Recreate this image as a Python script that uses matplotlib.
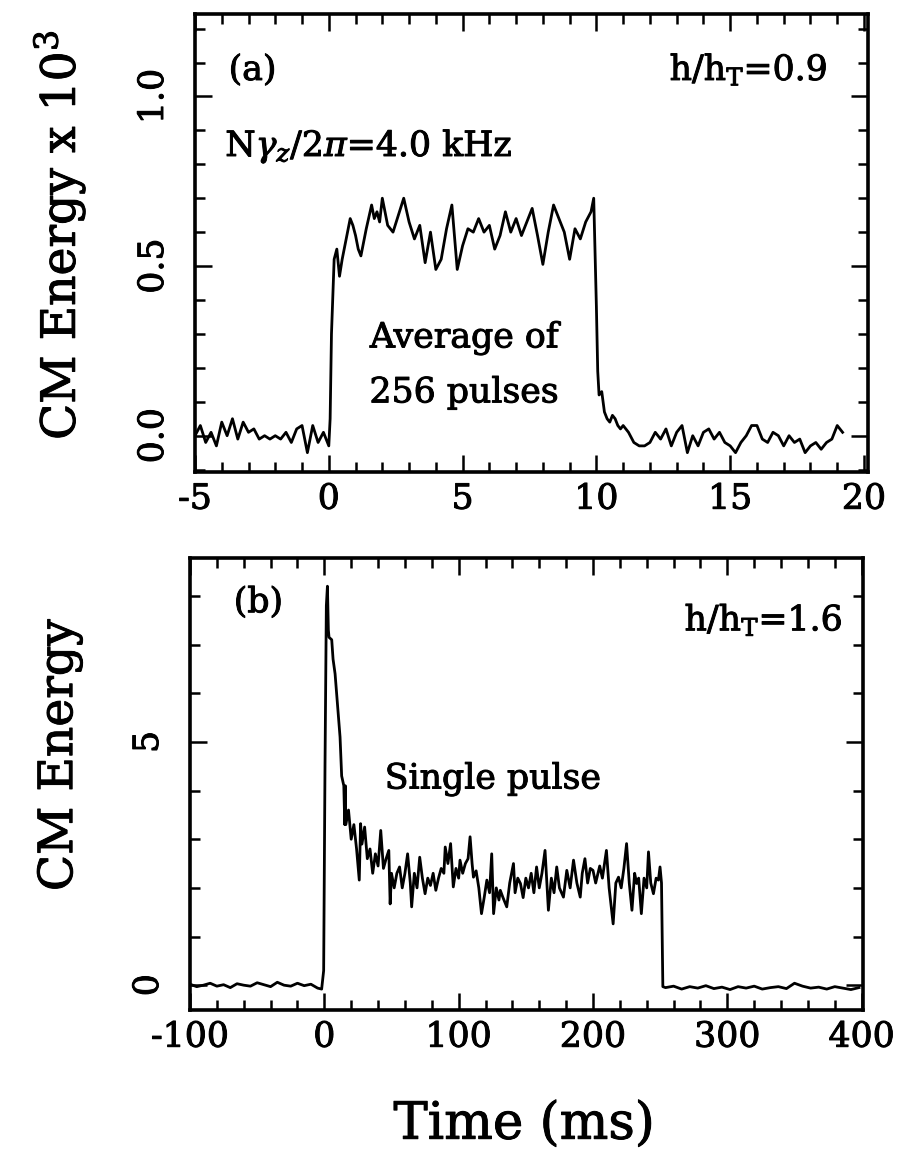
import numpy as np
import matplotlib
matplotlib.use('Agg')
import matplotlib.pyplot as plt
import matplotlib.patheffects as pe
from matplotlib.ticker import MultipleLocator

plt.rcParams['font.family'] = 'DejaVu Serif'
plt.rcParams['mathtext.fontset'] = 'dejavuserif'
plt.rcParams['axes.unicode_minus'] = False

# (a) average of 256 pulses, time in ms, CM energy in units of 10^3
a_time = [-5.0, -4.8, -4.6, -4.4, -4.2, -4.0, -3.8, -3.6, -3.4, -3.2,
          -3.0, -2.8, -2.6, -2.4, -2.2, -2.0, -1.8, -1.6, -1.4, -1.2,
          -1.0, -0.8, -0.6, -0.4, -0.2, 0.0,
          0.05, 0.1, 0.2, 0.3, 0.4, 0.5, 0.6, 0.7, 0.8, 0.9,
          1.0, 1.1, 1.2, 1.4, 1.6, 1.7, 1.8, 1.9, 2.0, 2.2,
          2.4, 2.6, 2.8, 3.0, 3.2, 3.4, 3.6, 3.8, 4.0, 4.2,
          4.4, 4.6, 4.8, 5.0, 5.2, 5.4, 5.6, 5.8, 6.0, 6.2,
          6.4, 6.6, 6.8, 7.0, 7.2, 7.4, 7.6, 7.8, 8.0, 8.2,
          8.4, 8.6, 8.8, 9.0, 9.2, 9.4, 9.6, 9.8, 9.9, 10.0,
          10.05, 10.1, 10.2, 10.3, 10.4, 10.5, 10.6, 10.7, 10.8, 10.9,
          11.0, 11.2, 11.4, 11.6, 11.8, 12.0, 12.2, 12.4, 12.6, 12.8,
          13.0, 13.2, 13.4, 13.6, 13.8, 14.0, 14.2, 14.4, 14.6, 14.8,
          15.0, 15.2, 15.4, 15.6, 15.8, 16.0, 16.2, 16.4, 16.6, 16.8,
          17.0, 17.2, 17.4, 17.6, 17.8, 18.0, 18.2, 18.4, 18.6, 18.8,
          19.0, 19.2]
a_energy = [0.00, 0.03, -0.02, 0.01, -0.03, 0.04, 0.00, 0.05, -0.01, 0.04,
            0.01, 0.02, -0.01, 0.00, -0.01, 0.00, -0.01, 0.01, -0.02, 0.02,
            0.03, -0.05, 0.03, -0.02, 0.01, -0.03,
            0.05, 0.30, 0.52, 0.55, 0.47, 0.52, 0.56, 0.60, 0.64, 0.62,
            0.59, 0.55, 0.53, 0.61, 0.68, 0.64, 0.66, 0.63, 0.70, 0.62,
            0.60, 0.65, 0.70, 0.63, 0.58, 0.62, 0.51, 0.60, 0.49, 0.52,
            0.61, 0.68, 0.49, 0.56, 0.61, 0.60, 0.64, 0.60, 0.62, 0.55,
            0.59, 0.66, 0.60, 0.64, 0.59, 0.63, 0.67, 0.59, 0.505, 0.60,
            0.68, 0.64, 0.60, 0.52, 0.61, 0.58, 0.63, 0.66, 0.70, 0.38,
            0.19, 0.12, 0.13, 0.07, 0.05, 0.04, 0.06, 0.05, 0.03, 0.02,
            0.03, 0.01, -0.02, -0.03, -0.03, -0.02, 0.01, -0.01, 0.02, -0.03,
            0.01, 0.03, -0.05, 0.00, -0.03, 0.01, 0.02, -0.01, 0.01, -0.02,
            -0.03, -0.05, -0.02, 0.00, 0.03, 0.03, -0.01, -0.02, 0.01, 0.00,
            -0.03, 0.00, -0.02, -0.01, -0.05, -0.03, -0.02, -0.04, -0.02, -0.01,
            0.03, 0.01]

# (b) single pulse, time in ms, CM energy
b_time = [-100, -95, -90, -85, -80, -75, -70, -65, -60, -55,
          -50, -45, -40, -35, -30, -25, -20, -15, -10, -5, -2,
          -0.5, 0.5, 1.5, 2.3, 3.0, 3.5, 5.5, 6.5, 8.0, 10.0,
          11.7, 12.9, 14.5, 15.2, 15.6,
          16, 18, 20, 22, 24, 26, 27, 28, 30, 32,
          34, 36, 38, 40, 42, 44, 46, 48, 49, 50,
          52, 54, 56, 58, 60, 62, 64, 65, 67, 69,
          71, 73, 75, 77, 79, 81, 83, 85, 87, 89,
          90, 92, 94, 96, 98, 100, 101, 103, 105, 107,
          108.5, 110, 111, 113, 115, 117, 119, 121, 123, 124.6,
          126, 128, 130, 131, 133, 135.8, 138, 140.8, 142, 144,
          146, 148, 150, 152, 154, 156, 158, 160, 162, 164.3,
          166.8, 169, 171, 173, 175, 178, 180.5, 183, 185.5, 188,
          190.5, 192, 194, 196, 198, 200, 202, 205, 207, 210,
          212, 215, 217, 219, 221, 223, 225, 227, 229, 231,
          232.5, 234, 236, 238, 240, 241.3, 243, 245, 247, 248.7,
          249.9, 251,
          252, 254, 260, 266, 272, 278, 284, 290, 296, 302,
          308, 314, 320, 326, 332, 338, 344, 350, 356, 362,
          368, 374, 380, 386, 392, 398]
b_energy = [0.02, -0.03, 0.00, 0.04, -0.02, 0.01, -0.05, 0.03, 0.00, -0.02,
            0.05, 0.01, -0.03, 0.06, 0.00, -0.02, 0.04, -0.01, 0.02, -0.06, -0.08,
            0.3, 4.5, 7.8, 8.2, 7.3, 7.15, 7.1, 6.7, 6.4, 5.7,
            5.1, 4.3, 4.1, 3.3, 4.1,
            3.3, 3.6, 3.0, 3.3, 2.8, 2.16, 3.32, 2.9, 3.25, 2.6,
            2.8, 2.3, 2.7, 2.45, 3.18, 2.4, 2.6, 2.77, 1.67, 2.3,
            2.0, 2.3, 2.43, 2.0, 2.3, 2.7, 2.1, 1.61, 2.3, 2.0,
            2.63, 2.2, 1.88, 2.2, 2.05, 2.3, 1.95, 2.2, 2.4, 2.3,
            2.84, 2.5, 2.91, 2.02, 2.4, 2.2, 2.57, 2.3, 2.5, 2.6,
            3.05, 2.5, 2.22, 2.35, 2.0, 1.47, 1.8, 2.16, 1.9, 2.70,
            1.47, 2.0, 1.75, 1.95, 1.8, 1.61, 2.1, 2.50, 1.9, 2.2,
            2.09, 1.8, 2.2, 2.0, 2.3, 1.9, 2.43, 2.0, 2.3, 2.77,
            1.54, 2.2, 1.9, 2.43, 2.0, 1.81, 2.36, 2.0, 2.57, 2.1,
            1.81, 2.3, 2.6, 2.1, 2.4, 2.36, 2.1, 2.45, 2.2, 2.77,
            2.0, 1.26, 2.1, 2.22, 2.0, 2.4, 2.91, 2.1, 1.54, 2.3,
            2.09, 2.2, 1.47, 2.2, 2.0, 2.74, 2.1, 1.88, 2.2, 2.16,
            2.43, 2.1,
            -0.03, -0.05, -0.02, -0.08, -0.03, -0.06, -0.01, -0.07, -0.04, -0.09,
            -0.03, -0.06, -0.02, -0.08, -0.05, -0.03, -0.07, 0.04, -0.02, -0.06,
            -0.04, -0.08, -0.03, -0.06, -0.09, -0.05]

# slightly heavier strokes on all text, like the scanned original
bold = [pe.withStroke(linewidth=0.7, foreground='black')]

W, H = 897, 1167
fig = plt.figure(figsize=(W / 100, H / 100), dpi=100)
ax1 = fig.add_axes([195 / W, 1 - 472 / H, (868 - 195) / W, (472 - 14) / H])
ax2 = fig.add_axes([190 / W, 1 - 1010 / H, (863 - 190) / W, (1010 - 558) / H])


def style(ax):
    for s in ax.spines.values():
        s.set_linewidth(2.6)
    ax.tick_params(which='both', direction='in', top=True, right=True,
                   width=1.8, labelsize=25)
    ax.tick_params(which='major', length=12)
    ax.tick_params(which='minor', length=7)
    ax.tick_params(axis='x', pad=7)
    ax.tick_params(axis='y', pad=18, labelrotation=90)
    for lab in ax.get_yticklabels():
        lab.set_va('center')
    for lab in ax.get_xticklabels() + ax.get_yticklabels():
        lab.set_path_effects(bold)


ax1.plot(a_time, a_energy, color='black', lw=2.0)
ax1.set_xlim(-5, 20.15)
ax1.set_ylim(-0.107, 1.243)
ax1.xaxis.set_major_locator(MultipleLocator(5))
ax1.xaxis.set_minor_locator(MultipleLocator(1))
ax1.set_yticks([0.0, 0.5, 1.0])
ax1.set_yticklabels(['0.0', '0.5', '1.0'])
ax1.yaxis.set_minor_locator(MultipleLocator(0.1))
style(ax1)

txt = dict(fontsize=25, path_effects=bold)
ax1.text(0.05, 0.856, '(a)', transform=ax1.transAxes, **txt)
ax1.text(0.94, 0.856, r'h/h$_\mathrm{T}$=0.9', transform=ax1.transAxes,
         ha='right', **txt)
ax1.text(0.045, 0.69, r'N$\gamma_z$/2$\pi$=4.0 kHz', transform=ax1.transAxes,
         **txt)
ax1.text(0.40, 0.272, 'Average of', transform=ax1.transAxes, ha='center', **txt)
ax1.text(0.40, 0.152, '256 pulses', transform=ax1.transAxes, ha='center', **txt)

ax2.plot(b_time, b_energy, color='black', lw=2.0)
ax2.set_xlim(-100, 401)
ax2.set_ylim(-0.51, 8.78)
ax2.xaxis.set_major_locator(MultipleLocator(100))
ax2.xaxis.set_minor_locator(MultipleLocator(20))
ax2.yaxis.set_major_locator(MultipleLocator(5))
ax2.yaxis.set_minor_locator(MultipleLocator(1))
style(ax2)

ax2.text(0.065, 0.88, '(b)', transform=ax2.transAxes, **txt)
ax2.text(0.97, 0.84, r'h/h$_\mathrm{T}$=1.6', transform=ax2.transAxes,
         ha='right', **txt)
ax2.text(0.45, 0.49, 'Single pulse', transform=ax2.transAxes, ha='center', **txt)

fig.text(60 / W, 1 - 235 / H, r'CM Energy x 10$^3$', rotation=90,
         fontsize=34, ha='center', va='center', path_effects=bold)
fig.text(60 / W, 1 - 755 / H, 'CM Energy', rotation=90,
         fontsize=34, ha='center', va='center', path_effects=bold)
fig.text(524 / W, 1 - 1125 / H, 'Time (ms)', fontsize=37,
         ha='center', va='center', path_effects=bold)

fig.savefig('out.png', dpi=100)
